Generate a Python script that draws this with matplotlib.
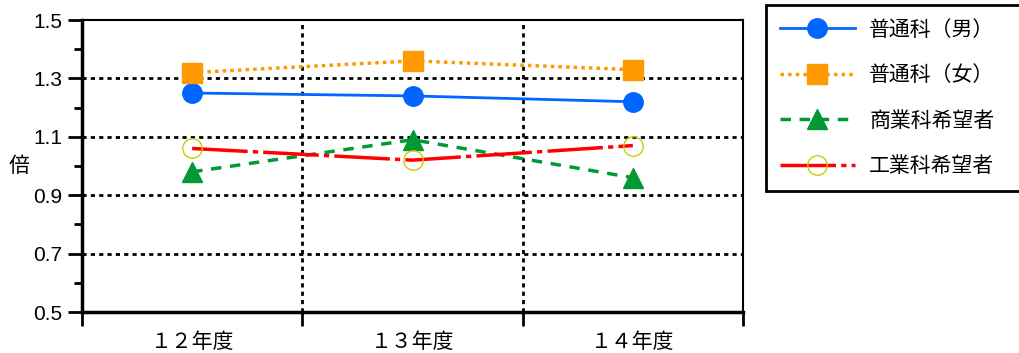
import matplotlib.pyplot as plt

plt.rcParams['font.family'] = ['Noto Sans CJK JP', 'DejaVu Sans']

years = ['１２年度', '１３年度', '１４年度']
futsu_male = [1.25, 1.24, 1.22]
futsu_female = [1.32, 1.36, 1.33]
shogyo = [0.98, 1.09, 0.96]
kogyo = [1.06, 1.02, 1.07]
labels = ['普通科（男）', '普通科（女）', '商業科希望者', '工業科希望者']
y_major = [0.5, 0.7, 0.9, 1.1, 1.3, 1.5]
y_minor = [0.6, 0.8, 1.0, 1.2, 1.4]


def main():
    fig = plt.figure(figsize=(10.19, 3.53), dpi=100)
    ax = fig.add_axes([82 / 1019, 1 - 312 / 353, (743 - 82) / 1019, (312 - 20) / 353])

    x = [i + 0.5 for i in range(len(years))]

    ax.plot(x, futsu_male, color='#0066ff', lw=2, marker='o', ms=14,
            label=labels[0], zorder=5)
    ax.plot(x, futsu_female, color='#ff9900', lw=2.5, linestyle=(0, (1, 1.2)),
            marker='s', ms=14, label=labels[1], zorder=5)
    ax.plot(x, shogyo, color='#009933', lw=2.5, linestyle=(0, (3, 2.5)),
            marker='^', ms=15, label=labels[2], zorder=5)
    ax.plot(x, kogyo, color='#ff0000', lw=2.5, linestyle=(0, (16, 1.5, 1.5, 1.5)),
            marker='o', ms=14, mfc='none', mec='#cccc00', mew=1,
            label=labels[3], zorder=5)

    ax.set_xlim(0, 3)
    ax.set_ylim(0.5, 1.5)
    ax.set_xticks([0, 1, 2, 3])
    ax.set_xticklabels([])
    ax.set_xticks(x, minor=True)
    ax.set_xticklabels(years, minor=True, fontsize=15)
    ax.tick_params(axis='x', which='major', direction='out', length=10, width=2)
    ax.tick_params(axis='x', which='minor', length=0, pad=14)

    ax.set_yticks(y_major)
    ax.set_yticklabels([f'{v:.1f}' for v in y_major], fontsize=15,
                       family='Liberation Sans')
    ax.set_yticks(y_minor, minor=True)
    ax.tick_params(axis='y', which='major', direction='out', length=10, width=2, pad=4)
    ax.tick_params(axis='y', which='minor', direction='out', length=6, width=2)
    ax.set_ylabel('倍', fontsize=15, rotation=0, labelpad=10, va='center')

    for v in [0.7, 0.9, 1.1, 1.3]:
        ax.axhline(v, color='black', lw=2, linestyle=(0, (1.5, 1.5)), zorder=1)
    for v in [1, 2]:
        ax.axvline(v, color='black', lw=2, linestyle=(0, (1.5, 1.5)), zorder=1)

    ax.spines['left'].set_linewidth(2.5)
    ax.spines['bottom'].set_linewidth(2.5)
    ax.spines['top'].set_linewidth(1.5)
    ax.spines['right'].set_linewidth(1.5)

    leg = fig.legend(loc='upper left',
                     bbox_to_anchor=(766 / 1019, 1 - 188 / 353, 270 / 1019, 183 / 353),
                     mode='expand', fontsize=15, handlelength=3.6,
                     labelspacing=1.13, borderpad=0.65, handletextpad=0.7,
                     borderaxespad=0, fancybox=False, edgecolor='black',
                     framealpha=1)
    leg.get_frame().set_linewidth(2)

    fig.savefig('out.png', dpi=100)


if __name__ == '__main__':
    main()
